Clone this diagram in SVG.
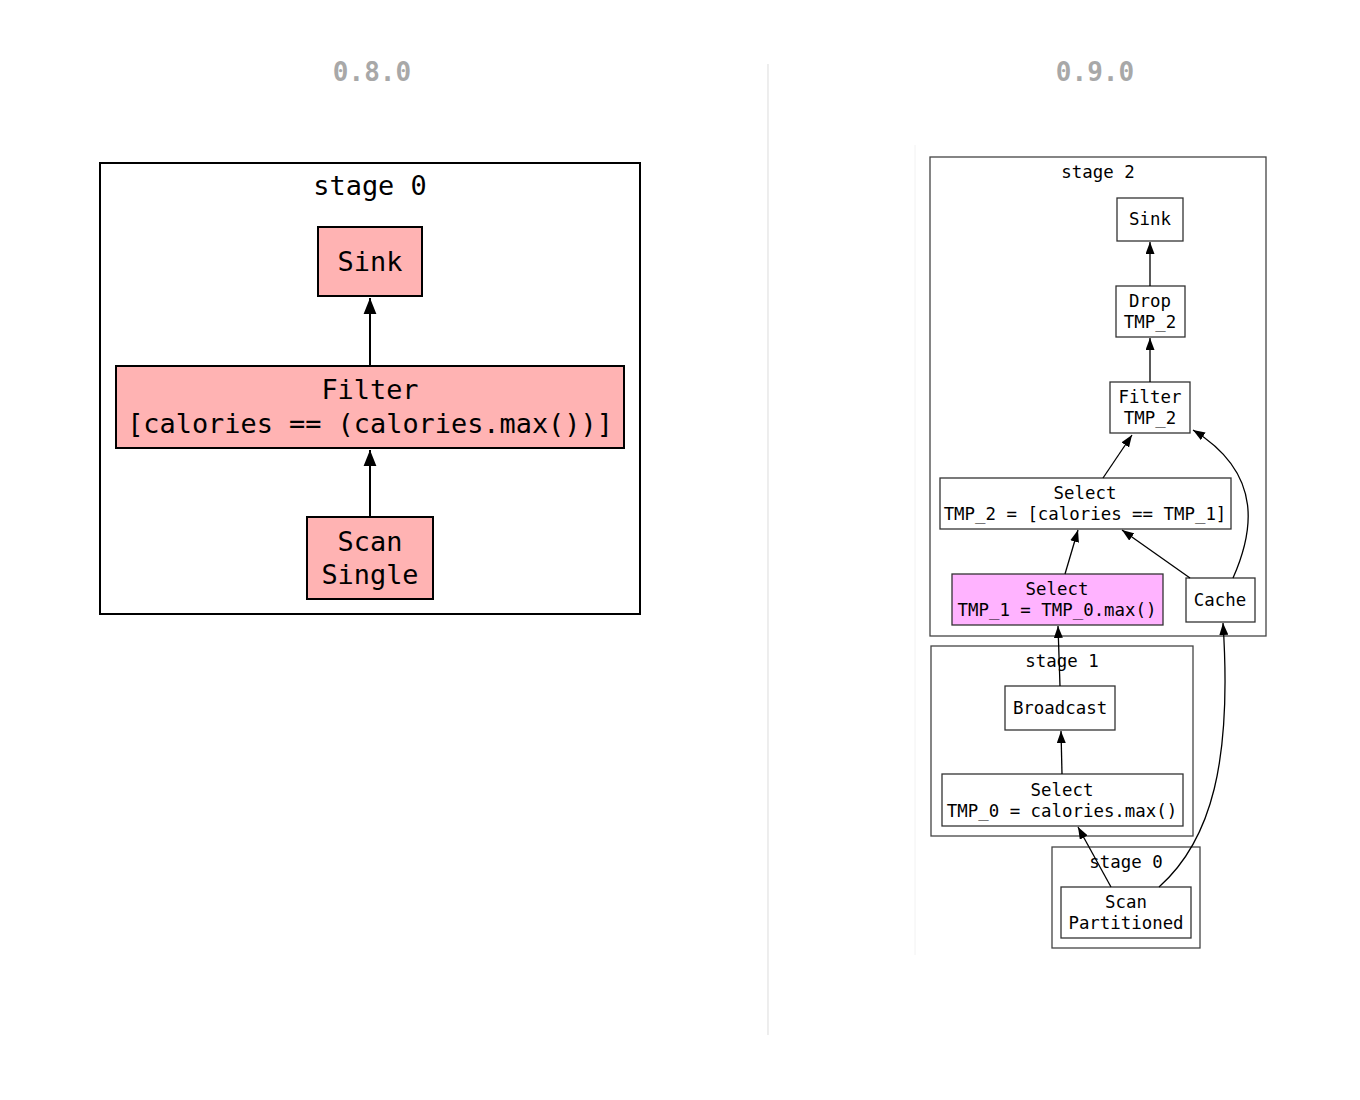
<svg xmlns="http://www.w3.org/2000/svg" width="1360" height="1100" viewBox="0 0 1360 1100">
<style>
text{font-family:"DejaVu Sans Mono","Liberation Mono",monospace;text-anchor:middle;fill:#000}
.ver{font-size:26px;fill:#a8a8a8;font-weight:bold}
.big{font-size:26.9px}
.sm{font-size:17.4px}
.lnode{fill:#ffb3b3;stroke:#000;stroke-width:2}
.lclu{fill:none;stroke:#000;stroke-width:2}
.rnode{fill:#fff;stroke:#333;stroke-width:1.3}
.rclu{fill:none;stroke:#444;stroke-width:1.3}
.e1{fill:none;stroke:#000;stroke-width:2}
.e2{fill:none;stroke:#000;stroke-width:1.3}
</style>
<defs>
<marker id="ahL" markerUnits="userSpaceOnUse" markerWidth="16" markerHeight="22" refX="20" refY="8" viewBox="0 0 20 16" orient="auto"><path d="M0,0 L20,8 L0,16 Z" fill="#000"/></marker>
<marker id="ahR" markerUnits="userSpaceOnUse" markerWidth="12" markerHeight="9" refX="12" refY="4.5" viewBox="0 0 12 9" orient="auto"><path d="M0,0 L12,4.5 L0,9 Z" fill="#000"/></marker>
</defs>
<rect width="1360" height="1100" fill="#fff"/>
<line x1="768" y1="64" x2="768" y2="1035" stroke="#e2e2e2" stroke-width="1.2"/>
<line x1="915" y1="145" x2="915" y2="955" stroke="#f2f2f2" stroke-width="1"/>
<text class="ver" x="372" y="81">0.8.0</text>
<text class="ver" x="1095" y="81">0.9.0</text>

<g id="left-stage0">
<rect class="lclu" x="100" y="163" width="540" height="451"/>
<text class="big" x="370" y="195">stage 0</text>
</g>
<g id="left-sink">
<rect class="lnode" x="318" y="227" width="104" height="69"/>
<text class="big" x="370" y="271">Sink</text>
</g>
<g id="left-filter">
<rect class="lnode" x="116" y="366" width="508" height="82"/>
<text class="big" x="370" y="399">Filter</text>
<text class="big" x="370" y="433">[calories == (calories.max())]</text>
</g>
<g id="left-scan">
<rect class="lnode" x="307" y="517" width="126" height="82"/>
<text class="big" x="370" y="551">Scan</text>
<text class="big" x="370" y="584">Single</text>
</g>

<g id="right-stage2">
<rect class="rclu" x="930" y="157" width="336" height="479"/>
<text class="sm" x="1098" y="178">stage 2</text>
</g>
<g id="right-stage1">
<rect class="rclu" x="931" y="646" width="262" height="190"/>
<text class="sm" x="1062" y="667">stage 1</text>
</g>
<g id="right-stage0">
<rect class="rclu" x="1052" y="847" width="148" height="101"/>
<text class="sm" x="1126" y="868">stage 0</text>
</g>
<g id="r-sink">
<rect class="rnode" x="1117" y="198" width="66" height="43"/>
<text class="sm" x="1150" y="225">Sink</text>
</g>
<g id="r-drop">
<rect class="rnode" x="1116" y="286" width="69" height="51"/>
<text class="sm" x="1150" y="307">Drop</text>
<text class="sm" x="1150" y="328">TMP_2</text>
</g>
<g id="r-filter">
<rect class="rnode" x="1110" y="382" width="80" height="51"/>
<text class="sm" x="1150" y="403">Filter</text>
<text class="sm" x="1150" y="424">TMP_2</text>
</g>
<g id="r-select2">
<rect class="rnode" x="940" y="478" width="291" height="51"/>
<text class="sm" x="1085" y="499">Select</text>
<text class="sm" x="1085" y="520">TMP_2 = [calories == TMP_1]</text>
</g>
<g id="r-select1">
<rect class="rnode" x="952" y="574" width="211" height="51" style="fill:#ffb3ff"/>
<text class="sm" x="1057" y="595">Select</text>
<text class="sm" x="1057" y="616">TMP_1 = TMP_0.max()</text>
</g>
<g id="r-cache">
<rect class="rnode" x="1186" y="578" width="69" height="44"/>
<text class="sm" x="1220" y="606">Cache</text>
</g>
<g id="r-broadcast">
<rect class="rnode" x="1005" y="686" width="110" height="44"/>
<text class="sm" x="1060" y="714">Broadcast</text>
</g>
<g id="r-select0">
<rect class="rnode" x="942" y="774" width="241" height="52"/>
<text class="sm" x="1062" y="796">Select</text>
<text class="sm" x="1062" y="817">TMP_0 = calories.max()</text>
</g>
<g id="r-scan">
<rect class="rnode" x="1061" y="887" width="130" height="51"/>
<text class="sm" x="1126" y="908">Scan</text>
<text class="sm" x="1126" y="929">Partitioned</text>
</g>

<g id="connectors">
<line class="e1" x1="370" y1="366" x2="370" y2="298" marker-end="url(#ahL)"/>
<line class="e1" x1="370" y1="517" x2="370" y2="450" marker-end="url(#ahL)"/>
<line class="e2" x1="1150" y1="286" x2="1150" y2="242" marker-end="url(#ahR)"/>
<line class="e2" x1="1150" y1="382" x2="1150" y2="338" marker-end="url(#ahR)"/>
<line class="e2" x1="1103" y1="478" x2="1132" y2="435" marker-end="url(#ahR)"/>
<path class="e2" d="M1233,578 C1252,535 1266,475 1193,430" marker-end="url(#ahR)"/>
<line class="e2" x1="1065" y1="574" x2="1078" y2="530" marker-end="url(#ahR)"/>
<line class="e2" x1="1190" y1="578" x2="1122" y2="530" marker-end="url(#ahR)"/>
<line class="e2" x1="1060" y1="686" x2="1058" y2="626" marker-end="url(#ahR)"/>
<line class="e2" x1="1062" y1="774" x2="1061" y2="731" marker-end="url(#ahR)"/>
<line class="e2" x1="1111" y1="887" x2="1078" y2="827" marker-end="url(#ahR)"/>
<path class="e2" d="M1159,887 C1212,840 1232,760 1223,623" marker-end="url(#ahR)"/>
</g>
</svg>
